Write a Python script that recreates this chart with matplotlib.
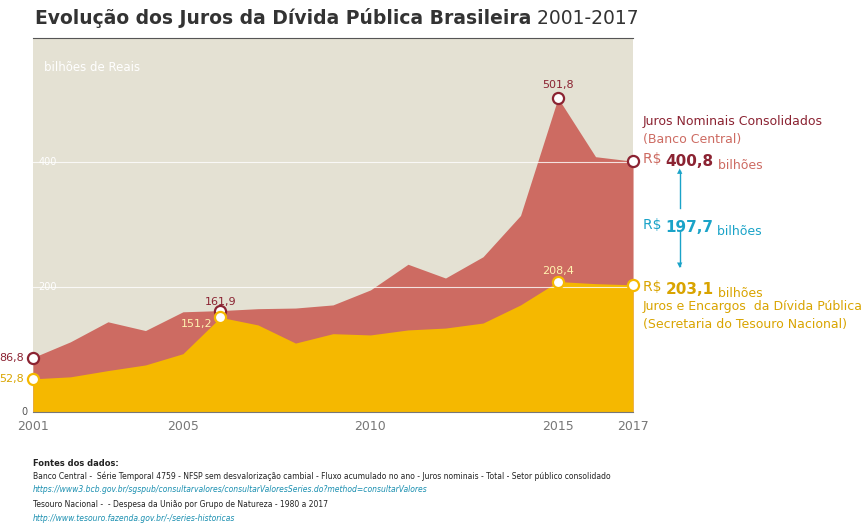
import matplotlib.pyplot as plt

years = list(range(2001, 2018))
juros_bc = [86.8, 112, 144, 130, 160, 161.9, 165, 166, 171, 195, 236, 214, 248, 314, 501.8, 408, 400.8]
juros_tn = [52.8, 56, 66, 75, 93, 151.2, 139, 110, 125, 123, 131, 134, 142, 171, 208.4, 205, 203.1]

RED = '#cd6b62'
DARK = '#8b2332'
YEL = '#f5b800'
YTXT = '#d9a400'
BLUE = '#1aa3c8'

fig = plt.figure(figsize=(8.66, 5.26), dpi=100)
ax = fig.add_axes([0.038, 0.217, 0.693, 0.711])
ax.set_facecolor('#e4e1d3')
ax.fill_between(years, 0, juros_bc, color=RED, lw=0)
ax.fill_between(years, 0, juros_tn, color=YEL, lw=0)
ax.set_xlim(2001, 2017)
ax.set_ylim(0, 598)
for v in (200, 400):
    ax.axhline(v, color='white', lw=0.8, alpha=0.8)
    ax.text(2001.4, v, str(v), color='white', fontsize=7, ha='center', va='center',
            bbox=dict(fc='none', ec='none'))
ax.text(2000.85, 0, '0', color='#555', fontsize=7, ha='right', va='center')
ax.set_yticks([])
ax.set_xticks([2001, 2005, 2010, 2015, 2017])
ax.tick_params(axis='x', colors='#777', labelsize=9, length=0, pad=6)
for s in ('left', 'right'):
    ax.spines[s].set_visible(False)
ax.spines['bottom'].set_color('#777')
ax.spines['top'].set_color('#555')
ax.text(2001.3, 550, 'bilhões de Reais', color='white', fontsize=8.5, va='center')

for i in (0, 5, 14, 16):
    ax.plot(years[i], juros_bc[i], 'o', ms=8, mfc='white', mec=DARK, mew=1.6, clip_on=False)
    ax.plot(years[i], juros_tn[i], 'o', ms=8, mfc='white', mec=YEL, mew=1.6, clip_on=False)
ax.text(2000.75, 86.8, '86,8', color=DARK, fontsize=8, ha='right', va='center')
ax.text(2000.75, 52.8, '52,8', color=YTXT, fontsize=8, ha='right', va='center')
ax.text(2006, 168, '161,9', color=DARK, fontsize=8, ha='center', va='bottom')
ax.text(2005.8, 140, '151,2', color='#fff3b0', fontsize=8, ha='right', va='center')
ax.text(2015, 514, '501,8', color=DARK, fontsize=8, ha='center', va='bottom')
ax.text(2015, 218, '208,4', color='#fff3b0', fontsize=8, ha='center', va='bottom')

t = fig.text(0.04, 0.965, 'Evolução dos Juros da Dívida Pública Brasileira', fontsize=13.5,
             fontweight='bold', color='#333', va='center', family='Liberation Sans Narrow')
ax.annotate(' 2001-2017', xy=(1, 0.5), xycoords=t, fontsize=13.5, color='#333',
            va='center', family='Liberation Sans Narrow', annotation_clip=False)

fig.text(0.742, 0.762, 'Juros Nominais Consolidados', fontsize=9, color=DARK)
fig.text(0.742, 0.728, '(Banco Central)', fontsize=9, color=RED)


def valor(y, num, c1, c2):
    a = fig.text(0.742, y, 'R$ ', fontsize=10, color=c1)
    b = ax.annotate(num, xy=(1, 0), xycoords=a, fontsize=11, color=c2, fontweight='bold',
                    annotation_clip=False)
    ax.annotate(' bilhões', xy=(1, 0), xycoords=b, fontsize=9, color=c1, annotation_clip=False)


valor(0.690, '400,8', RED, DARK)
valor(0.565, '197,7', BLUE, BLUE)
valor(0.447, '203,1', YTXT, YTXT)
fig.text(0.742, 0.410, 'Juros e Encargos  da Dívida Pública', fontsize=9, color=YTXT)
fig.text(0.742, 0.377, '(Secretaria do Tesouro Nacional)', fontsize=9, color=YTXT)
fig.add_artist(plt.Line2D([0.785, 0.785], [0.605, 0.675], color=BLUE, lw=1))
fig.add_artist(plt.Line2D([0.785, 0.785], [0.495, 0.56], color=BLUE, lw=1))
fig.text(0.785, 0.675, '▲', color=BLUE, fontsize=5, ha='center', va='center')
fig.text(0.785, 0.495, '▼', color=BLUE, fontsize=5, ha='center', va='center')

fig.text(0.038, 0.115, 'Fontes dos dados:', fontsize=6, fontweight='bold', color='#222')
fig.text(0.038, 0.090, 'Banco Central -  Série Temporal 4759 - NFSP sem desvalorização cambial - Fluxo acumulado no ano - Juros nominais - Total - Setor público consolidado', fontsize=5.5, color='#222')
fig.text(0.038, 0.064, 'https://www3.bcb.gov.br/sgspub/consultarvalores/consultarValoresSeries.do?method=consultarValores', fontsize=5.5, color='#1a8fb0', style='italic')
fig.text(0.038, 0.036, 'Tesouro Nacional -  - Despesa da União por Grupo de Natureza - 1980 a 2017', fontsize=5.5, color='#222')
fig.text(0.038, 0.010, 'http://www.tesouro.fazenda.gov.br/-/series-historicas', fontsize=5.5, color='#1a8fb0', style='italic')

fig.savefig('out.png', dpi=100)
